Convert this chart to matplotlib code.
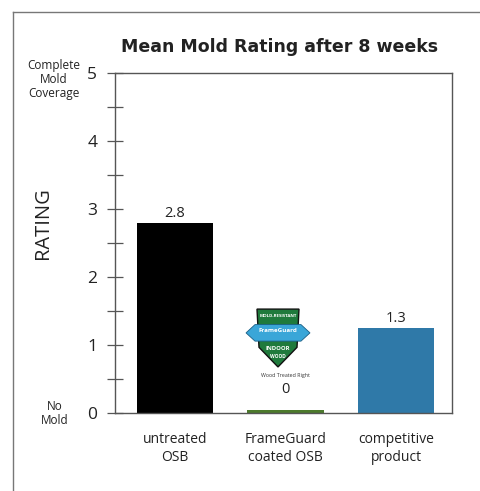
import matplotlib.pyplot as plt
from matplotlib.lines import Line2D
from matplotlib.patches import Polygon

# data
categories = ["untreated\nOSB", "FrameGuard\ncoated OSB", "competitive\nproduct"]
ratings = [2.8, 0.05, 1.25]
value_labels = ["2.8", "0", "1.3"]
bar_colors = ["#000000", "#4c7a2c", "#2f79a8"]
major_ticks = [0, 1, 2, 3, 4, 5]
minor_ticks = [0.5, 1.5, 2.5, 3.5, 4.5]

plt.rcParams['font.family'] = ['Open Sans', 'DejaVu Sans']

fig = plt.figure(figsize=(4.8, 4.91), dpi=100)
ax = fig.add_axes([0.2396, 0.1589, 0.7021, 0.6924])

x = range(len(categories))
ax.bar(x, ratings, width=0.69, color=bar_colors)
for i, (v, lab) in enumerate(zip(ratings, value_labels)):
    ax.text(i, max(v, 0.2) + 0.14, lab, ha='center', va='center', fontsize=10.5, color='#222222')

ax.set_xlim(-0.543, 2.507)
ax.set_ylim(0, 5)
ax.set_xticks(list(x))
ax.set_xticklabels(categories, fontsize=10, color='#222222', linespacing=1.25)
ax.tick_params(axis='x', length=0, pad=14)
ax.set_yticks(major_ticks)
ax.set_yticks(minor_ticks, minor=True)
ax.tick_params(axis='y', which='both', direction='inout', length=11.5, width=0.9,
               color='#555555', labelsize=12.5, labelcolor='#222222', pad=7)
for s in ax.spines.values():
    s.set_color('#555555')
    s.set_linewidth(1.0)

ax.set_ylabel("RATING", fontsize=14.5, color='#222222')
ax.yaxis.set_label_coords(-0.184, 0.559)
fig.text(0.582, 0.904, "Mean Mold Rating after 8 weeks", ha='center', va='center',
         fontsize=12.5, fontweight='bold', family='DejaVu Sans', color='#222222')
fig.text(0.112, 0.839, "Complete\nMold\nCoverage", ha='center', va='center',
         fontsize=8.5, color='#222222', linespacing=1.1)
fig.text(0.114, 0.157, "No\nMold", ha='center', va='center',
         fontsize=8.5, color='#222222', linespacing=1.1)

# outer frame
fig.add_artist(Line2D([13 / 480, 13 / 480], [0, 1 - 12 / 491], transform=fig.transFigure, color='#777777', lw=1))
fig.add_artist(Line2D([13 / 480, 1], [1 - 12 / 491, 1 - 12 / 491], transform=fig.transFigure, color='#777777', lw=1))

# FrameGuard badge
lg = fig.add_axes([245 / 480, 1 - 368 / 491, 66 / 480, 62 / 491])
lg.set_xlim(0, 66)
lg.set_ylim(0, 60)
lg.axis('off')
shield = [(12, 57), (54, 57), (52, 20), (33, 1), (14, 20)]
lg.add_patch(Polygon(shield, closed=True, fc='#1f7a3c', ec='#111111', lw=1))
lg.add_patch(Polygon([(1, 34), (10, 42), (56, 42), (65, 34), (56, 26), (10, 26)], closed=True,
                     fc='#3aa6d8', ec='#1b5f86', lw=0.6))
lg.text(33, 50, "MOLD-RESISTANT", ha='center', va='center', fontsize=3.2, color='white', fontweight='bold')
lg.text(33, 36, "FrameGuard", ha='center', va='center', fontsize=4.5, color='white', fontweight='bold')
lg.text(33, 19, "INDOOR", ha='center', va='center', fontsize=4.3, color='white', fontweight='bold')
lg.text(33, 11, "WOOD", ha='center', va='center', fontsize=3.5, color='white', fontweight='bold')
fig.text(285 / 480, 1 - 375 / 491, "Wood Treated Right", ha='center', va='center', fontsize=3.8, color='#333333')

fig.savefig("out.png", dpi=100)
